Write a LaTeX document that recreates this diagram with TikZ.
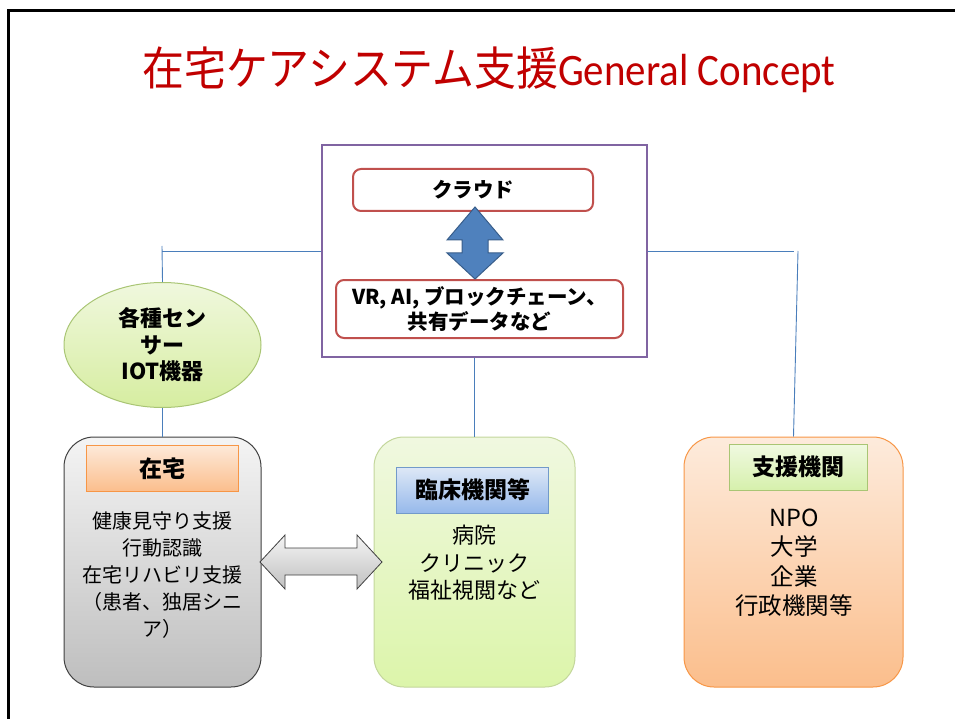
\documentclass[tikz,border=0pt]{standalone}
\usepackage{fontspec}
\setmainfont{Noto Sans CJK JP}
\newfontfamily\carlito{Carlito}
\usetikzlibrary{shapes.geometric}
\definecolor{titlered}{HTML}{C00000}
\definecolor{purp}{HTML}{8064A2}
\definecolor{redb}{HTML}{C0504D}
\definecolor{arrblue}{HTML}{4F81BD}
\definecolor{arrblueb}{HTML}{385D8A}
\definecolor{conn}{HTML}{4A7EBB}
\definecolor{grayb}{HTML}{404040}
\definecolor{orangeb}{HTML}{F79646}
\definecolor{greenb}{HTML}{A9C574}
\definecolor{lgreenb}{HTML}{C3D69B}
\tikzset{
  connline/.style={draw=conn, line width=0.9pt},
  bigbox/.style={rectangle, rounded corners=30pt, line width=1pt, inner sep=0pt},
  hdr/.style={rectangle, line width=1pt, inner sep=0pt, font=\bfseries\fontsize{23}{26}\selectfont},
  bodytxt/.style={align=center, inner sep=0pt, font=\fontsize{20}{27}\selectfont},
  roundbox/.style={rectangle, rounded corners=8pt, draw=redb, line width=2pt, fill=white, inner sep=0pt,
     align=center, font=\bfseries\fontsize{20.5}{25}\selectfont},
}
\begin{document}
\begin{tikzpicture}[x=1pt,y=-1pt]
\useasboundingbox (0,0) rectangle (955,719);
% slide frame
\draw[line width=3pt] (8.5,719) -- (8.5,11) -- (955,11);
% title
\node[text=titlered, inner sep=0pt, xscale=0.91, font=\fontsize{46}{50}\selectfont] (title) at (489,70)
  {在宅ケアシステム支援{\carlito\fontsize{45}{50}\selectfont General Concept}};
% cloud frame
\node[rectangle, draw=purp, line width=2.5pt, minimum width=325pt, minimum height=212pt, inner sep=0pt] (frame) at (484.5,251) {};
\node[roundbox, minimum width=240pt, minimum height=42pt] (cloud) at (473,190) {クラウド};
\node[roundbox, minimum width=287pt, minimum height=58pt] (tech) at (479.5,309) {VR, AI, ブロックチェーン、\\共有データなど};
\fill[arrblue, draw=arrblueb, line width=1pt] (475,207) -- (503,240) -- (488,240) -- (488,253) -- (503,253) -- (475,279)
   -- (447,253) -- (462,253) -- (462,240) -- (447,240) -- cycle;
% sensor ellipse
\node[ellipse, draw=greenb, line width=1pt, top color={rgb,255:red,240;green,248;blue,222}, bottom color={rgb,255:red,214;green,237;blue,160},
  minimum width=197pt, minimum height=125pt, inner sep=0pt, align=center, font=\bfseries\fontsize{22}{26.5}\selectfont] (sensor) at (162.5,345)
  {各種セン\\サー\\IOT機器};
% home box
\node[bigbox, draw=grayb, top color={rgb,255:red,244;green,244;blue,244}, bottom color={rgb,255:red,190;green,190;blue,190},
  minimum width=197pt, minimum height=250pt] (home) at (162.5,562) {};
\node[hdr, draw=orangeb, top color={rgb,255:red,253;green,233;blue,217}, bottom color={rgb,255:red,251;green,190;blue,140},
  minimum width=152pt, minimum height=46pt] (homehdr) at (162.5,468.5) {在宅};
\node[bodytxt] (hometxt) at (162.5,575) {健康見守り支援\\行動認識\\在宅リハビリ支援\\（患者、独居シニ\\ア）};
% clinical box
\node[bigbox, draw=lgreenb, top color={rgb,255:red,240;green,248;blue,224}, bottom color={rgb,255:red,220;green,245;blue,170},
  minimum width=201pt, minimum height=250pt] (clinic) at (474.5,562) {};
\node[hdr, draw=arrblue!80!white, top color={rgb,255:red,222;green,232;blue,246}, bottom color={rgb,255:red,150;green,185;blue,235},
  minimum width=152pt, minimum height=46pt] (clinichdr) at (472.5,490) {臨床機関等};
\node[bodytxt, font=\fontsize{22}{27.5}\selectfont] (clinictxt) at (474.5,563) {病院\\クリニック\\福祉視閲など};
% support box
\node[bigbox, draw=orangeb, top color={rgb,255:red,253;green,235;blue,220}, bottom color={rgb,255:red,251;green,190;blue,140},
  minimum width=219pt, minimum height=250pt] (support) at (793.5,562) {};
\node[hdr, draw=greenb, top color={rgb,255:red,240;green,249;blue,225}, bottom color={rgb,255:red,214;green,240;blue,172},
  minimum width=138pt, minimum height=46pt] (supporthdr) at (798,467) {支援機関};
\node[bodytxt, font=\fontsize{23.5}{29.5}\selectfont] (supporttxt) at (794,562.5) {NPO\\大学\\企業\\行政機関等};
% gray double arrow
\path[draw=grayb, line width=0.8pt, top color={rgb,255:red,244;green,244;blue,244}, bottom color={rgb,255:red,192;green,192;blue,192}]
  (260,562) -- (285,535) -- (285,548) -- (357,548) -- (357,535) -- (382,562) -- (357,589) -- (357,575) -- (285,575) -- (285,589) -- cycle;
% connectors
\coordinate (ltop) at (162,246);
\coordinate (ljoin) at (162,251);
\coordinate (rjoin) at (794,251);
\coordinate (rtop) at (798,251);
\draw[connline] (ltop) -- (sensor.north);
\draw[connline] (ljoin) -- (ljoin -| frame.west);
\draw[connline] (frame.east |- rjoin) -- (rjoin);
\draw[connline] (rtop) -- (support.north);
\draw[connline] (sensor.south) -- (home.north);
\draw[connline] (clinic.north |- frame.south) -- (clinic.north);
\end{tikzpicture}
\end{document}
